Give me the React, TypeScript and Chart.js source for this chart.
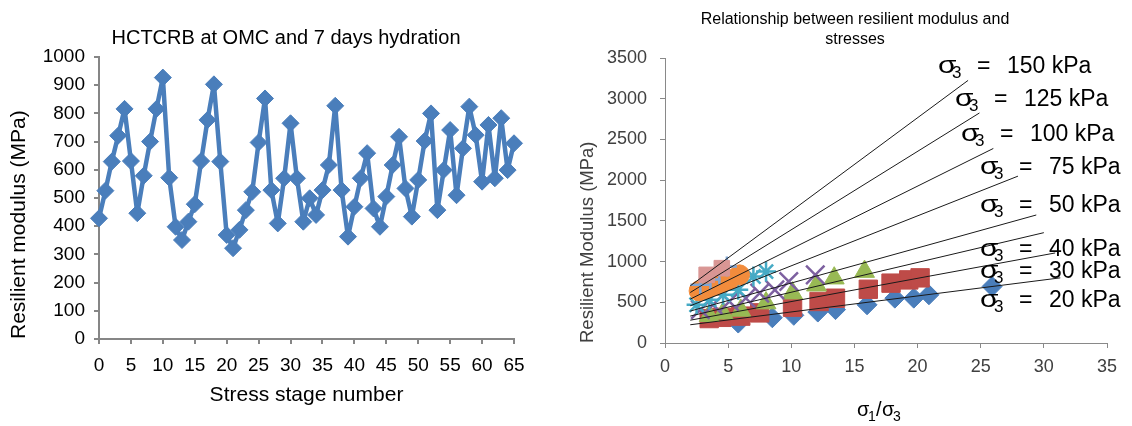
import React, { useEffect, useRef } from 'react';
import { Chart, registerables } from 'chart.js';

Chart.register(...registerables);

const FONT = '"Liberation Sans", Arial, sans-serif';

// ---------- Left chart data ----------
const LEFT_TITLE = 'HCTCRB at OMC and 7 days hydration';
const LEFT_X_TITLE = 'Stress stage number';
const LEFT_Y_TITLE = 'Resilient modulus (MPa)';
const STAGE_MR = [
  428, 526, 629, 721, 816, 631, 446, 579, 700, 816,
  927, 572, 398, 351, 416, 478, 631, 777, 903, 629,
  369, 322, 387, 457, 522, 697, 853, 528, 410, 570,
  765, 570, 416, 499, 440, 528, 617, 827, 528, 363,
  469, 570, 659, 463, 398, 505, 617, 717, 534, 434,
  564, 702, 800, 457, 599, 741, 510, 676, 824, 723,
  558, 759, 570, 783, 599, 694,
];
const STAGE_NO = STAGE_MR.map((_, i) => i);

// ---------- Right chart data ----------
const RIGHT_TITLE = ['Relationship between resilient modulus and', 'stresses'];
const RIGHT_Y_TITLE = 'Resilient Modulus (MPa)';
const SIGMA3 = [20, 30, 40, 50, 75, 100, 125, 150];

const RATIO_20 = [5.8, 8.5, 10.2, 12.1, 13.5, 16.0, 18.2, 19.7, 20.9, 25.9];
const MR_20 = [245, 310, 340, 380, 410, 469, 551, 551, 592, 694];
const RATIO_30 = [3.5, 4.5, 6.0, 7.5, 10.1, 12.2, 13.5, 16.1, 17.9, 19.3, 20.2];
const MR_30 = [300, 315, 330, 370, 440, 510, 550, 660, 735, 775, 800];
const RATIO_40 = [3.5, 4.6, 6.0, 8.0, 10.1, 12.0, 13.4, 15.8];
const MR_40 = [335, 365, 400, 490, 612, 710, 796, 877];
const RATIO_50 = [2.8, 3.8, 5.1, 6.4, 7.5, 8.7, 9.8, 11.9];
const MR_50 = [408, 469, 510, 551, 612, 653, 755, 837];
const RATIO_75 = [2.5, 3.5, 4.6, 5.8, 7.0, 8.0];
const MR_75 = [469, 530, 592, 653, 816, 877];
const RATIO_100 = [2.7, 3.3, 3.9, 4.5, 5.1, 5.9];
const MR_100 = [640, 670, 700, 740, 780, 837];
const RATIO_125 = [2.8, 3.6, 4.3, 4.9];
const MR_125 = [714, 780, 840, 940];
const RATIO_150 = [3.3, 4.5];
const MR_150 = [837, 919];

const FIT_START_RATIO = [2, 2, 2, 2, 2, 2, 2, 2];
const FIT_START_MR = [224, 280, 331, 392, 457, 539, 620, 702];
const FIT_END_RATIO = [31.3, 30.9, 30.0, 29.4, 27.95, 26.0, 24.9, 24.0];
const FIT_END_MR = [800, 1106, 1355, 1572, 2049, 2389, 2825, 3225];

const RATIOS = [RATIO_20, RATIO_30, RATIO_40, RATIO_50, RATIO_75, RATIO_100, RATIO_125, RATIO_150];
const MRS = [MR_20, MR_30, MR_40, MR_50, MR_75, MR_100, MR_125, MR_150];

const MARKERS: any[] = [
  { style: 'rectRot', radius: 10, color: '#4A7EBB', width: 1 },
  { style: 'rect', radius: 13, color: '#BE4B48', width: 1 },
  { style: 'triangle', radius: 11.5, color: '#98B954', width: 1 },
  { style: 'crossRot', radius: 13, color: '#7D60A0', width: 2.5 },
  { style: 'star', radius: 10, color: '#46AAC5', width: 2.5 },
  { style: 'circle', radius: 10, color: '#F28C3C', width: 1 },
  { style: 'cross', radius: 10, color: '#7EA6D6', width: 2.5 },
  { style: 'rect', radius: 11, color: '#D99694', width: 1 },
];

const plainTick = (v: any) => String(v);

function drawSigma(c: CanvasRenderingContext2D, x: number, y: number, sub: string, size: number, stretch: number, subDx: number, subDy: number, subSize: number) {
  c.save();
  c.translate(x, y);
  c.scale(stretch, 1);
  c.font = `${size}px ${FONT}`;
  c.textAlign = 'left';
  c.textBaseline = 'alphabetic';
  c.fillText('σ', 0, 0);
  c.restore();
  c.save();
  c.font = `${subSize}px ${FONT}`;
  c.textAlign = 'left';
  c.textBaseline = 'alphabetic';
  c.fillText(sub, x + subDx, y + subDy);
  c.restore();
}

function LeftChart() {
  const ref = useRef<HTMLCanvasElement>(null);
  useEffect(() => {
    const titlePlugin = {
      id: 'leftTitle',
      afterDraw(chart: any) {
        const c = chart.ctx as CanvasRenderingContext2D;
        c.save();
        c.font = `20px ${FONT}`;
        c.fillStyle = '#000';
        c.textAlign = 'center';
        c.textBaseline = 'middle';
        c.fillText(LEFT_TITLE, 286, 38);
        c.restore();
      },
    };
    const chart = new Chart(ref.current!, {
      type: 'line',
      data: {
        datasets: [
          {
            data: STAGE_MR.map((v, i) => ({ x: STAGE_NO[i], y: v })),
            borderColor: '#4A7EBB',
            backgroundColor: '#4A7EBB',
            borderWidth: 4.5,
            borderJoinStyle: 'round',
            borderCapStyle: 'round',
            pointStyle: 'rectRot',
            pointRadius: 8.5,
            pointBackgroundColor: '#4A7EBB',
            pointBorderColor: '#4A7EBB',
            pointBorderWidth: 1,
            tension: 0,
            clip: false,
          } as any,
        ],
      },
      options: {
        responsive: false,
        animation: false,
        devicePixelRatio: 1,
        layout: { padding: { left: 0, top: 57, right: 46, bottom: 0 } },
        plugins: { legend: { display: false }, tooltip: { enabled: false }, title: { display: false } },
        scales: {
          x: {
            type: 'linear',
            min: 0,
            max: 65,
            ticks: { stepSize: 5, font: { size: 19, family: FONT }, color: '#000', padding: 10, maxRotation: 0, autoSkip: false, callback: plainTick },
            grid: { display: true, drawOnChartArea: false, drawTicks: true, tickLength: 5, color: '#868686', lineWidth: 2 },
            border: { display: true, color: '#868686', width: 2 },
            title: { display: true, text: LEFT_X_TITLE, font: { size: 21, family: FONT }, color: '#000', padding: { top: 0, bottom: 18 } },
            afterFit: (s: any) => { s.height = 87; },
          },
          y: {
            min: 0,
            max: 1000,
            ticks: { stepSize: 100, font: { size: 19, family: FONT }, color: '#000', padding: 9, callback: plainTick },
            grid: { display: true, drawOnChartArea: false, drawTicks: true, tickLength: 5, color: '#868686', lineWidth: 2 },
            border: { display: true, color: '#868686', width: 2 },
            title: { display: true, text: LEFT_Y_TITLE, align: 'start', font: { size: 21, family: FONT }, color: '#000', padding: { top: 7, bottom: 0 } },
            afterFit: (s: any) => { s.width = 99; },
          },
        },
      } as any,
      plugins: [titlePlugin],
    });
    return () => chart.destroy();
  }, []);
  return <canvas ref={ref} width={560} height={426} style={{ position: 'absolute', left: 0, top: 0, display: 'block' }} />;
}

function RightChart() {
  const ref = useRef<HTMLCanvasElement>(null);
  useEffect(() => {
    const LABEL_LEFT = [420, 420, 420, 420, 420, 401, 395, 378];
    const LABEL_BASE = [307, 278, 256, 212, 174, 141, 106, 73];
    const textPlugin = {
      id: 'rightTexts',
      afterDraw(chart: any) {
        const c = chart.ctx as CanvasRenderingContext2D;
        c.save();
        c.fillStyle = '#000';
        c.font = `16px ${FONT}`;
        c.textAlign = 'center';
        c.textBaseline = 'middle';
        RIGHT_TITLE.forEach((t, i) => c.fillText(t, 295, 20 + i * 20));
        SIGMA3.forEach((s, i) => {
          const x = LABEL_LEFT[i];
          const y = LABEL_BASE[i];
          drawSigma(c, x, y, '3', 23, 1.3, 14, 5, 17);
          c.font = `23px ${FONT}`;
          c.textAlign = 'left';
          c.textBaseline = 'alphabetic';
          c.fillText('=', x + 39, y);
          c.fillText(`${s} kPa`, x + 69, y);
        });
        const bx = 297;
        const by = 416;
        drawSigma(c, bx, by, '1', 20, 1.0, 11, 5, 14);
        c.font = `20px ${FONT}`;
        c.textAlign = 'left';
        c.textBaseline = 'alphabetic';
        c.fillText('/', bx + 19, by);
        drawSigma(c, bx + 25, by, '3', 20, 1.0, 11, 5, 14);
        c.restore();
      },
    };

    const datasets: any[] = [];
    SIGMA3.forEach((s, i) => {
      datasets.push({
        label: `Fit σ3 = ${s} kPa`,
        data: [
          { x: FIT_START_RATIO[i], y: FIT_START_MR[i] },
          { x: FIT_END_RATIO[i], y: FIT_END_MR[i] },
        ],
        showLine: true,
        borderColor: '#1a1a1a',
        borderWidth: 1,
        pointRadius: 0,
        order: 0,
      });
    });
    SIGMA3.forEach((s, i) => {
      const m = MARKERS[i];
      datasets.push({
        label: `σ3 = ${s} kPa`,
        data: RATIOS[i].map((x, j) => ({ x, y: MRS[i][j] })),
        showLine: false,
        pointStyle: m.style,
        pointRadius: m.radius,
        pointBackgroundColor: m.color,
        pointBorderColor: m.color,
        pointBorderWidth: m.width,
        backgroundColor: m.color,
        borderColor: m.color,
        order: 20 - i,
      });
    });

    const chart = new Chart(ref.current!, {
      type: 'scatter',
      data: { datasets },
      options: {
        responsive: false,
        animation: false,
        devicePixelRatio: 1,
        layout: { padding: { left: 0, top: 58, right: 25, bottom: 0 } },
        plugins: { legend: { display: false }, tooltip: { enabled: false }, title: { display: false } },
        scales: {
          x: {
            type: 'linear',
            min: 0,
            max: 35,
            ticks: { stepSize: 5, font: { size: 18, family: FONT }, color: '#404040', padding: 8, maxRotation: 0, autoSkip: false, callback: plainTick },
            grid: { display: true, drawOnChartArea: false, drawTicks: true, tickLength: 5, color: '#898989', lineWidth: 1 },
            border: { display: true, color: '#898989', width: 1 },
            title: { display: false },
            afterFit: (sc: any) => { sc.height = 83; },
          },
          y: {
            min: 0,
            max: 3500,
            ticks: { stepSize: 500, font: { size: 18, family: FONT }, color: '#404040', padding: 13, callback: plainTick },
            grid: { display: true, drawOnChartArea: false, drawTicks: true, tickLength: 5, color: '#898989', lineWidth: 1 },
            border: { display: true, color: '#898989', width: 1 },
            title: { display: true, text: RIGHT_Y_TITLE, align: 'start', font: { size: 18.5, family: FONT }, color: '#404040', padding: { top: 17, bottom: 0 } },
            afterFit: (sc: any) => { sc.width = 105; },
          },
        },
      } as any,
      plugins: [textPlugin],
    });
    return () => chart.destroy();
  }, []);
  return <canvas ref={ref} width={572} height={426} style={{ position: 'absolute', left: 560, top: 0, display: 'block' }} />;
}

export default function App() {
  return (
    <div style={{ position: 'fixed', left: 0, top: 0, width: 1132, height: 426, background: '#fff', overflow: 'hidden' }}>
      <LeftChart />
      <RightChart />
    </div>
  );
}
